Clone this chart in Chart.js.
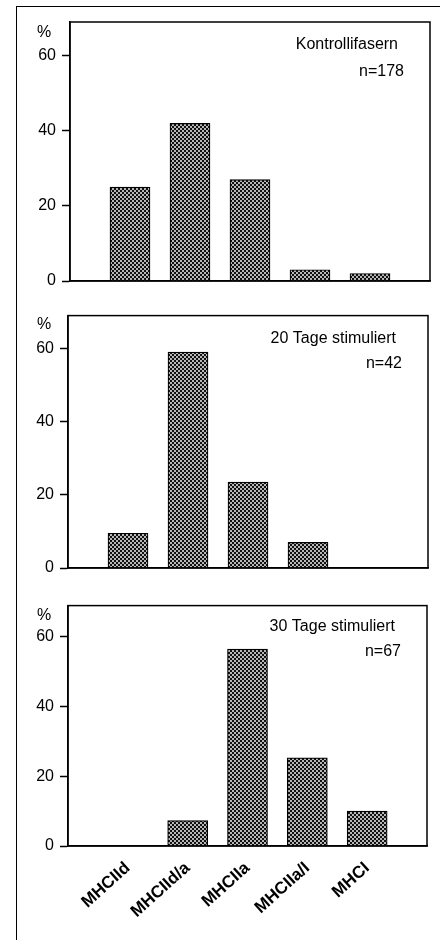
<!DOCTYPE html>
<html>
<head>
<meta charset="utf-8">
<script src="https://cdn.jsdelivr.net/npm/chart.js@4"></script>
<style>
  html, body { margin:0; padding:0; background:#fff; }
  #page { position:relative; width:440px; height:940px; overflow:hidden; }
  #frame { position:absolute; left:16px; top:6px; width:440px; height:940px; border-left:1.5px solid #000; border-top:1.5px solid #000; }
  canvas { position:absolute; left:0; }
</style>
</head>
<body>
<div id="page">
  <div id="frame"></div>
  <canvas id="c1" width="440" height="300" style="top:0"></canvas>
  <canvas id="c2" width="440" height="290" style="top:300px"></canvas>
  <canvas id="c3" width="440" height="350" style="top:590px"></canvas>
</div>
<script>
// --- data ---
const CATEGORIES = ['MHCIId', 'MHCIId/a', 'MHCIIa', 'MHCIIa/I', 'MHCI'];
const CONTROL = [25, 42, 27, 3, 2];
const DAY20 = [9.5, 59, 23.5, 7, 0];
const DAY30 = [0, 7.3, 56.5, 25.3, 10];
const Y_TICKS = [0, 20, 40, 60];
const Y_MAX = 69;

const FONT = 'Liberation Sans, Arial, sans-serif';

// crosshatch fill like the print
function hatch() {
  const t = document.createElement('canvas');
  t.width = 4; t.height = 4;
  const g = t.getContext('2d');
  g.fillStyle = '#111';
  g.fillRect(0, 0, 4, 4);
  g.fillStyle = '#fff';
  g.beginPath(); g.arc(1, 1, 0.95, 0, Math.PI * 2); g.fill();
  g.beginPath(); g.arc(3, 3, 0.95, 0, Math.PI * 2); g.fill();
  return document.createElement('canvas').getContext('2d').createPattern(t, 'repeat');
}
const PATTERN = hatch();

// frame box, "%" and the panel notes
const panelText = {
  id: 'panelText',
  afterDraw(chart, args, opts) {
    const { ctx, chartArea: a } = chart;
    ctx.save();
    ctx.strokeStyle = '#000';
    ctx.lineWidth = 1.5;
    ctx.strokeRect(a.left, a.top, a.right - a.left, a.bottom - a.top);
    ctx.fillStyle = '#000';
    ctx.font = '16px ' + FONT;
    ctx.textBaseline = 'middle';
    ctx.textAlign = 'left';
    ctx.fillText('%', 37, a.top + opts.pctY);
    ctx.textAlign = 'right';
    ctx.fillText(opts.title, a.right - 32, a.top + opts.titleY);
    ctx.fillText(opts.n, a.right - 26, a.top + opts.nY);
    ctx.restore();
  }
};

function makePanel(id, values, cfg) {
  new Chart(document.getElementById(id), {
    type: 'bar',
    data: {
      datasets: [{
        data: values.map((v, i) => ({ x: i, y: v })),
        backgroundColor: PATTERN,
        borderColor: '#000',
        borderWidth: 1.2,
        barThickness: 40
      }]
    },
    options: {
      responsive: false,
      animation: false,
      layout: { padding: { top: cfg.top, right: cfg.right, bottom: cfg.bottom, left: 0 } },
      plugins: {
        legend: { display: false },
        tooltip: { enabled: false },
        panelText: { title: cfg.title, n: cfg.n, titleY: cfg.titleY, nY: cfg.nY, pctY: cfg.pctY }
      },
      scales: {
        x: {
          type: 'linear',
          min: -1,
          max: CATEGORIES.length,
          offset: false,
          grid: { display: false, offset: false },
          border: { display: true, color: '#000', width: 1.5 },
          afterBuildTicks: s => { s.ticks = CATEGORIES.map((c, i) => ({ value: i })); },
          afterFit: s => { s.height = cfg.xHeight; },
          ticks: {
            display: cfg.showLabels,
            autoSkip: false,
            minRotation: 42,
            maxRotation: 42,
            padding: 4,
            color: '#000',
            font: { family: FONT, size: 17, weight: 'bold' },
            callback: v => CATEGORIES[v]
          }
        },
        y: {
          min: 0,
          max: Y_MAX,
          afterBuildTicks: s => { s.ticks = Y_TICKS.map(v => ({ value: v })); },
          afterFit: s => { s.width = cfg.left; },
          grid: { drawOnChartArea: false, drawTicks: true, tickLength: 8, tickColor: '#000', tickWidth: 1.5 },
          border: { display: true, color: '#000', width: 1.5 },
          ticks: { color: '#000', padding: 6, font: { family: FONT, size: 16 } }
        }
      }
    },
    plugins: [panelText]
  });
}

makePanel('c1', CONTROL, {
  top: 22, bottom: 19, right: 10, left: 70, xHeight: 0, showLabels: false,
  title: 'Kontrollifasern', n: 'n=178', titleY: 23, nY: 50, pctY: 11
});
makePanel('c2', DAY20, {
  top: 15, bottom: 22, right: 12, left: 68, xHeight: 0, showLabels: false,
  title: '20 Tage stimuliert', n: 'n=42', titleY: 23, nY: 48, pctY: 9
});
makePanel('c3', DAY30, {
  top: 4, bottom: 0, right: 13, left: 68, xHeight: 94, showLabels: true,
  title: '30 Tage stimuliert', n: 'n=67', titleY: 21, nY: 46, pctY: 10
});
</script>
</body>
</html>
